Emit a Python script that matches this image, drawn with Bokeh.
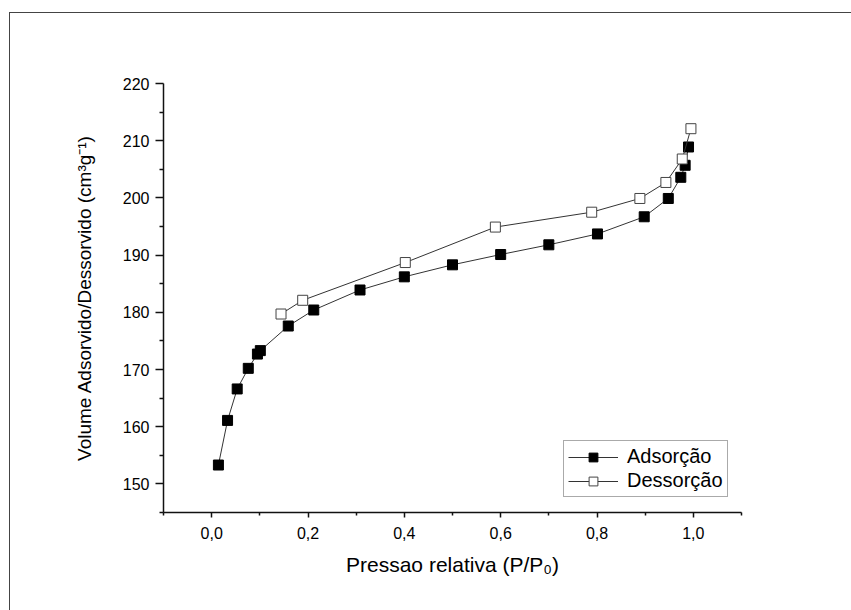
from bokeh.plotting import figure
from bokeh.models import FixedTicker, CustomJSTickFormatter, Legend, LegendItem, Range1d
from bokeh.embed import file_html
from bokeh.resources import INLINE

# Adsorption branch
ads_p = [0.014, 0.033, 0.053, 0.076, 0.095, 0.101, 0.159, 0.212, 0.308, 0.400,
         0.500, 0.600, 0.700, 0.801, 0.898, 0.948, 0.974, 0.983, 0.990]
ads_v = [153.3, 161.1, 166.6, 170.2, 172.7, 173.3, 177.6, 180.4, 183.9, 186.2,
         188.3, 190.1, 191.8, 193.7, 196.7, 199.9, 203.6, 205.7, 208.9]
# Desorption branch
des_p = [0.995, 0.977, 0.943, 0.889, 0.789, 0.589, 0.402, 0.189, 0.144]
des_v = [212.1, 206.8, 202.7, 199.9, 197.5, 194.9, 188.7, 182.1, 179.7]

x_ticks = [0.0, 0.2, 0.4, 0.6, 0.8, 1.0]
x_minor = [-0.1, 0.1, 0.3, 0.5, 0.7, 0.9, 1.1]
y_ticks = [150, 160, 170, 180, 190, 200, 210, 220]
y_minor = [145, 155, 165, 175, 185, 195, 205, 215]

FONT = "Liberation Sans"

p = figure(width=842, height=598, output_backend="svg", toolbar_location=None,
           x_range=Range1d(-0.1, 1.1), y_range=Range1d(145, 220),
           min_border_left=153, min_border_right=111, min_border_top=70, min_border_bottom=99)
p.margin = (12, 0, 0, 9)
p.styles = {"border-top": "1px solid #444", "border-left": "1px solid #444"}
p.outline_line_color = None
p.xgrid.visible = False
p.ygrid.visible = False
p.background_fill_color = "white"
p.border_fill_color = "white"

la = p.line(ads_p, ads_v, line_color="#333333", line_width=1)
sa = p.scatter(ads_p, ads_v, marker="square", size=10, fill_color="black", line_color="black")
ld = p.line(des_p, des_v, line_color="#333333", line_width=1)
sd = p.scatter(des_p, des_v, marker="square", size=10, fill_color="white", line_color="#444444", line_width=1)

fmt = CustomJSTickFormatter(code="return tick.toFixed(1).replace('.', ',');")

xa = p.xaxis[0]
xa.ticker = FixedTicker(ticks=x_ticks, minor_ticks=x_minor)
xa.formatter = fmt
xa.axis_label = "Pressao relativa (P/P\u2080)"
ya = p.yaxis[0]
ya.ticker = FixedTicker(ticks=y_ticks, minor_ticks=y_minor)
ya.axis_label = "Volume Adsorvido/Dessorvido (cm\u00b3g\u207b\u00b9)"

for ax in (xa, ya):
    ax.axis_line_color = "#111111"
    ax.axis_line_width = 1.5
    ax.major_tick_line_color = "#111111"
    ax.minor_tick_line_color = "#111111"
    ax.major_tick_line_width = 1.5
    ax.minor_tick_line_width = 1.5
    ax.major_label_text_font = FONT
    ax.major_label_text_font_size = "16px"
    ax.major_label_text_color = "black"
    ax.axis_label_text_font = FONT
    ax.axis_label_text_font_style = "normal"
    ax.axis_label_text_color = "black"

xa.axis_label_text_font_size = "21px"
ya.axis_label_text_font_size = "19px"

xa.major_tick_out = 5
xa.major_tick_in = 0
xa.minor_tick_out = 3
xa.minor_tick_in = 0
xa.major_label_standoff = 9
xa.axis_label_standoff = 11
ya.major_tick_out = 8
ya.major_tick_in = 0
ya.minor_tick_out = 4
ya.minor_tick_in = 0
ya.major_label_standoff = 6
ya.axis_label_standoff = 25

legend = Legend(items=[LegendItem(label="Adsorção", renderers=[la, sa]),
                       LegendItem(label="Dessorção", renderers=[ld, sd])],
                location=(400, 15))
legend.label_text_font = FONT
legend.label_text_font_size = "20px"
legend.label_text_color = "black"
legend.border_line_color = "#555555"
legend.border_line_width = 1
legend.background_fill_alpha = 1
legend.glyph_width = 50
legend.glyph_height = 22
legend.label_standoff = 9
legend.padding = 4
legend.spacing = 1
legend.margin = 0
legend.label_height = 22
p.add_layout(legend, "center")

open("out.html", "w").write(file_html(p, INLINE))
